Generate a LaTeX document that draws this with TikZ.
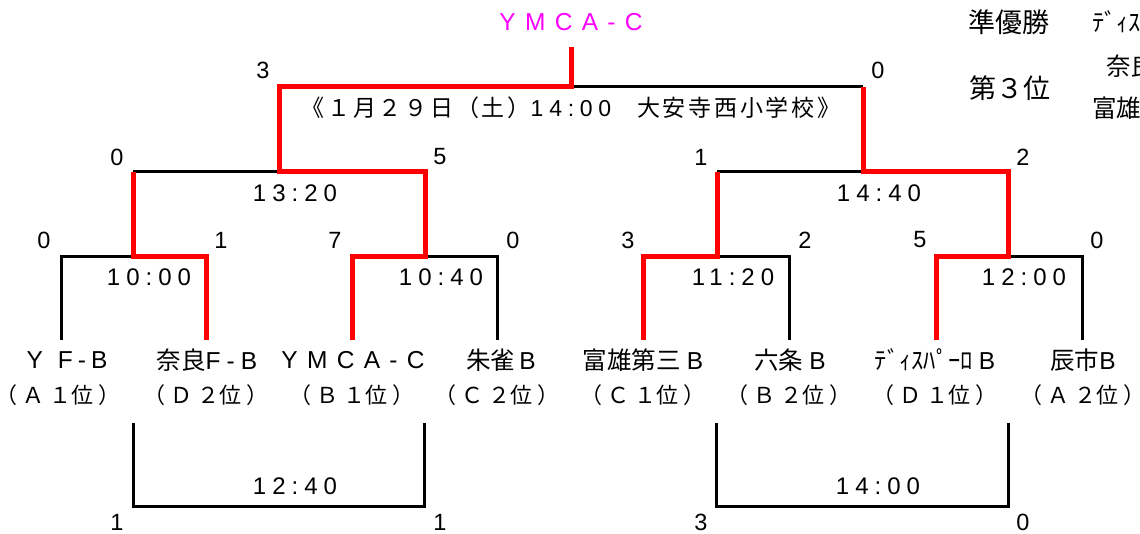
\documentclass[tikz,border=0pt]{standalone}
\usepackage{fontspec}
\setmainfont{Liberation Sans}
\newfontfamily\cjk{Noto Sans CJK JP}
\newfontfamily\cjkw{Noto Sans CJK JP}[LetterSpace=12]
\newfontfamily\lsn{Liberation Sans}[LetterSpace=25]
\newfontfamily\lsw{Liberation Sans}[LetterSpace=38]
\definecolor{mag}{RGB}{255,0,255}
\definecolor{rline}{RGB}{255,0,0}
\tikzset{
  blk/.style={line width=3pt, black, line join=miter},
  rd/.style={line width=5pt, rline, line join=miter},
  score/.style={inner sep=0pt, font=\fontsize{23.5}{23.5}\selectfont},
  timel/.style={inner sep=0pt, font=\lsn\fontsize{24}{24}\selectfont},
  team/.style={inner sep=0pt, font=\lsn\fontsize{24.5}{24.5}\selectfont},
  subl/.style={inner sep=0pt, font=\cjk\fontsize{22}{22}\selectfont},
  big/.style={inner sep=0pt, font=\cjk\fontsize{27}{27}\selectfont},
}
\newcommand{\gp}{\kern5pt}
\begin{document}
\begin{tikzpicture}[x=1pt,y=-1pt]
\useasboundingbox (0,0) rectangle (1140,534);
\clip (0,0) rectangle (1140,534);
% coordinates
\coordinate (top) at (571,47);
\coordinate (fc) at (571,87);
\coordinate (fl) at (279,87);
\coordinate (fr) at (863,87);
\coordinate (sl) at (279,172);
\coordinate (sr) at (863,172);
\coordinate (sll) at (133,172);
\coordinate (slr) at (425,172);
\coordinate (srl) at (717,172);
\coordinate (srr) at (1008,172);
\coordinate (ra) at (133,257);
\coordinate (rb) at (425,257);
\coordinate (rc) at (717,257);
\coordinate (rd) at (1008,257);
\coordinate (t1) at (61,340);
\coordinate (t2) at (206,340);
\coordinate (t3) at (352,340);
\coordinate (t4) at (497,340);
\coordinate (t5) at (643,340);
\coordinate (t6) at (789,340);
\coordinate (t7) at (936,340);
\coordinate (t8) at (1082,340);
\coordinate (a1) at (133,423);
\coordinate (a2) at (424,423);
\coordinate (b1) at (716,423);
\coordinate (b2) at (1008,423);
% black lines
\draw[blk] (fl) -- (fr);
\draw[blk] (sll) -- (sl);
\draw[blk] (srl) -- (sr);
\draw[blk] (t1) -- (t1 |- ra) -- (ra);
\draw[blk] (rb) -- (t4 |- rb) -- (t4);
\draw[blk] (rc) -- (t6 |- rc) -- (t6);
\draw[blk] (rd) -- (t8 |- rd) -- (t8);
\draw[blk] (a1) -- ++(0,83) -| (a2);
\draw[blk] (b1) -- ++(0,83) -| (b2);
% red lines
\draw[rd] (top) -- (fc) -- (fl) -- (sl) -- (slr) -- (rb) -- (t3 |- rb) -- (t3);
\draw[rd] (sll) -- (ra) -- (t2 |- ra) -- (t2);
\draw[rd] (fr) -- (sr) -- (srr) -- (rd) -- (t7 |- rd) -- (t7);
\draw[rd] (srl) -- (rc) -- (t5 |- rc) -- (t5);
% champion
\node[inner sep=0pt, font=\lsw\fontsize{24.5}{24.5}\selectfont, text=mag] (champ) at (571,22) {YMCA-C};
% subtitle
\node[inner sep=0pt, font=\cjkw\fontsize{23}{23}\selectfont] (venue) at (571,108) {《１月２９日（土）{\lsn 14:00}　大安寺西小学校》};
% scores
\node[score] (s1) at (263,70) {3};
\node[score] (s2) at (878,70) {0};
\node[score] (s3) at (117,157) {0};
\node[score] (s4) at (440,157) {5};
\node[score] (s5) at (701,157) {1};
\node[score] (s6) at (1023,157) {2};
\node[score] (s7) at (44,240) {0};
\node[score] (s8) at (221,240) {1};
\node[score] (s9) at (335,240) {7};
\node[score] (s10) at (513,240) {0};
\node[score] (s11) at (628,240) {3};
\node[score] (s12) at (805,240) {2};
\node[score] (s13) at (920,240) {5};
\node[score] (s14) at (1097,240) {0};
\node[score] (s15) at (117,522) {1};
\node[score] (s16) at (440,522) {1};
\node[score] (s17) at (701,522) {3};
\node[score] (s18) at (1023,522) {0};
% times
\node[timel] (m1) at (295,193) {13:20};
\node[timel] (m2) at (879,193) {14:40};
\node[timel] (m3) at (149,277) {10:00};
\node[timel] (m4) at (441,277) {10:40};
\node[timel] (m5) at (733,277) {11:20};
\node[timel] (m6) at (1024,277) {12:00};
\node[timel] (m7) at (295,486) {12:40};
\node[timel] (m8) at (878,486) {14:00};
% teams
\node[team] (n1) at (67,360) {Y\kern2pt\ F\kern5pt-\kern5pt B};
\node[team] (n2) at (207,360) {{\cjk 奈良}F-B};
\node[inner sep=0pt, font=\lsw\fontsize{24.5}{24.5}\selectfont] (n3) at (353,360) {YMCA-C};
\node[team] (n4) at (501,360) {{\cjk 朱雀}\kern4pt B};
\node[team] (n5) at (643,360) {{\cjk 富雄第三}\kern6pt B};
\node[team] (n6) at (790,360) {{\cjk 六条}\kern6pt B};
\node[team] (n7) at (935,360) {{\cjk ﾃﾞｨｽﾊﾟｰﾛ}\kern6pt B};
\node[team] (n8) at (1083,360) {{\cjk 辰市}B};
\node[subl] (g1) at (58,395) {（\gp Ａ\gp １位\gp ）};
\node[subl] (g2) at (206,395) {（\gp Ｄ\gp ２位\gp ）};
\node[subl] (g3) at (352,395) {（\gp Ｂ\gp １位\gp ）};
\node[subl] (g4) at (497,395) {（\gp Ｃ\gp ２位\gp ）};
\node[subl] (g5) at (643,395) {（\gp Ｃ\gp １位\gp ）};
\node[subl] (g6) at (789,395) {（\gp Ｂ\gp ２位\gp ）};
\node[subl] (g7) at (935,395) {（\gp Ｄ\gp １位\gp ）};
\node[subl] (g8) at (1083,395) {（\gp Ａ\gp ２位\gp ）};
% results at top right
\node[big] (runner) at (1009,22) {準優勝};
\node[big] (third) at (1010,88) {第３位};
\node[team, anchor=west] (rr1) at (1092,22) {{\cjk ﾃﾞｨｽﾊﾟｰﾛ}\kern6pt B};
\node[team, anchor=west] (rr2) at (1106,66) {{\cjk 奈良}F-B};
\node[team, anchor=west] (rr3) at (1092,108) {{\cjk 富雄第三}\kern6pt B};
\end{tikzpicture}
\end{document}
